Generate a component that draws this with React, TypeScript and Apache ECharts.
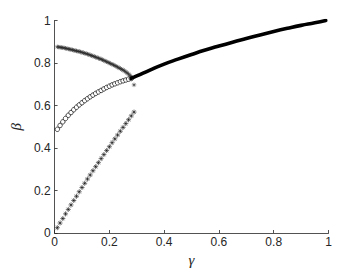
import React, { useEffect, useRef } from "react";
import * as echarts from "echarts";

const upperStarGamma = [0.01, 0.015, 0.02, 0.025, 0.03, 0.035, 0.04, 0.045, 0.05, 0.055, 0.06, 0.065, 0.07, 0.075, 0.08, 0.085, 0.09, 0.095, 0.1, 0.105, 0.11, 0.115, 0.12, 0.125, 0.13, 0.135, 0.14, 0.145, 0.15, 0.155, 0.16, 0.165, 0.17, 0.175, 0.18, 0.185, 0.19, 0.195, 0.2, 0.205, 0.21, 0.215, 0.22, 0.225, 0.23, 0.235, 0.24, 0.245, 0.25, 0.255, 0.26, 0.265, 0.27, 0.275, 0.28, 0.29];
const upperStarBeta = [0.876, 0.875, 0.874, 0.873, 0.872, 0.871, 0.869, 0.868, 0.866, 0.865, 0.863, 0.862, 0.86, 0.858, 0.857, 0.855, 0.854, 0.852, 0.85, 0.848, 0.846, 0.844, 0.842, 0.84, 0.837, 0.835, 0.833, 0.83, 0.828, 0.825, 0.823, 0.82, 0.818, 0.815, 0.812, 0.809, 0.806, 0.803, 0.8, 0.797, 0.794, 0.791, 0.788, 0.784, 0.781, 0.777, 0.774, 0.77, 0.767, 0.763, 0.758, 0.753, 0.748, 0.742, 0.735, 0.697];

const circleGamma = [0.01, 0.02, 0.03, 0.04, 0.05, 0.06, 0.07, 0.08, 0.09, 0.1, 0.11, 0.12, 0.13, 0.14, 0.15, 0.16, 0.17, 0.18, 0.19, 0.2, 0.21, 0.22, 0.23, 0.24, 0.25, 0.26, 0.27, 0.28];
const circleBeta = [0.488, 0.506, 0.523, 0.539, 0.554, 0.567, 0.58, 0.592, 0.603, 0.613, 0.623, 0.632, 0.641, 0.649, 0.657, 0.664, 0.671, 0.678, 0.685, 0.691, 0.697, 0.702, 0.707, 0.712, 0.716, 0.72, 0.724, 0.727];

const lowerStarGamma = [0.01, 0.02, 0.03, 0.04, 0.05, 0.06, 0.07, 0.08, 0.09, 0.1, 0.11, 0.12, 0.13, 0.14, 0.15, 0.16, 0.17, 0.18, 0.19, 0.2, 0.21, 0.22, 0.23, 0.24, 0.25, 0.26, 0.27, 0.28, 0.29];
const lowerStarBeta = [0.025, 0.047, 0.068, 0.09, 0.111, 0.132, 0.153, 0.173, 0.194, 0.214, 0.234, 0.254, 0.273, 0.293, 0.312, 0.331, 0.35, 0.369, 0.388, 0.406, 0.425, 0.443, 0.461, 0.479, 0.497, 0.515, 0.533, 0.551, 0.569];

const curveGamma = [0.28, 0.3, 0.35, 0.4, 0.45, 0.5, 0.55, 0.6, 0.65, 0.7, 0.75, 0.8, 0.85, 0.9, 0.95, 0.99];
const curveBeta = [0.728, 0.739, 0.768, 0.795, 0.818, 0.84, 0.861, 0.88, 0.898, 0.915, 0.932, 0.948, 0.963, 0.977, 0.989, 1.0];

const xTicks = ["0", "0.2", "0.4", "0.6", "0.8", "1"];
const yTicks = ["0", "0.2", "0.4", "0.6", "0.8", "1"];

const asterisk = "path://M5,0L5,10M0,5L10,5M1.6,1.6L8.4,8.4M1.6,8.4L8.4,1.6";

const zip = (a: number[], b: number[]) => a.map((v, i) => [v, b[i]]);

export default function App() {
  const ref = useRef<HTMLDivElement>(null);
  useEffect(() => {
    if (!ref.current) return;
    const chart = echarts.init(ref.current, null, { renderer: "svg" });
    const axisCommon = {
      min: 0,
      max: 1,
      interval: 0.2,
      axisLine: { show: true, onZero: false, lineStyle: { color: "#262626", width: 0.8 } },
      axisTick: { show: true, inside: true, length: 3, lineStyle: { color: "#262626", width: 0.8 } },
      splitLine: { show: false },
      nameTextStyle: { fontFamily: "Liberation Serif", fontStyle: "italic", fontSize: 15, color: "#262626" },
    };
    chart.setOption({
      animation: false,
      grid: { left: 47.5, right: 34.5, top: 20.5, bottom: 40 },
      xAxis: {
        type: "value",
        ...axisCommon,
        name: "γ",
        nameLocation: "middle",
        nameGap: 15,
        axisLabel: {
          color: "#262626",
          fontFamily: "Liberation Sans",
          fontSize: 12,
          margin: 3,
          formatter: (v: number) => xTicks[Math.round(v / 0.2)],
        },
      },
      yAxis: {
        type: "value",
        ...axisCommon,
        name: "β",
        nameLocation: "middle",
        nameRotate: 90,
        nameGap: 24,
        axisLabel: {
          color: "#262626",
          fontFamily: "Liberation Sans",
          fontSize: 12,
          margin: 4,
          formatter: (v: number) => yTicks[Math.round(v / 0.2)],
        },
      },
      series: [
        {
          type: "line",
          data: zip(curveGamma, curveBeta),
          smooth: true,
          showSymbol: false,
          lineStyle: { color: "#000", width: 3.6, cap: "round" },
          z: 3,
        },
        {
          type: "scatter",
          data: zip(circleGamma, circleBeta),
          symbol: "circle",
          symbolSize: 4.5,
          itemStyle: { color: "#fff", borderColor: "#000", borderWidth: 0.7, opacity: 1 },
          z: 2,
        },
        {
          type: "scatter",
          data: zip(upperStarGamma, upperStarBeta),
          symbol: asterisk,
          symbolSize: 4.5,
          itemStyle: { color: "none", borderColor: "#222", borderWidth: 0.5, opacity: 1 },
          z: 2,
        },
        {
          type: "scatter",
          data: zip(lowerStarGamma, lowerStarBeta),
          symbol: asterisk,
          symbolSize: 5,
          itemStyle: { color: "none", borderColor: "#111", borderWidth: 0.6, opacity: 1 },
          z: 2,
        },
      ],
    });
    return () => chart.dispose();
  }, []);
  return <div ref={ref} style={{ width: 363, height: 273, position: "absolute", left: 0, top: 0, background: "#fff" }} />;
}
